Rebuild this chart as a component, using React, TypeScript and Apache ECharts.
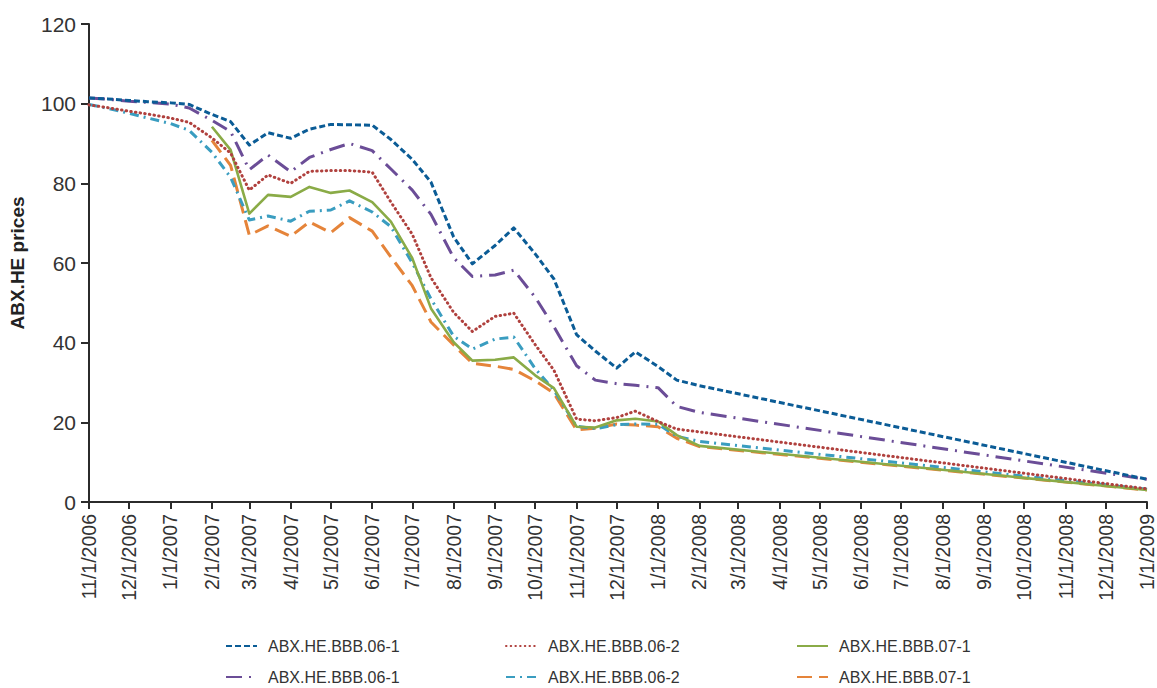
import React, { useEffect, useRef } from "react";
import * as echarts from "echarts";

const dates = [
  "11/1/2006", "11/15/2006", "12/1/2006", "12/15/2006", "1/1/2007", "1/15/2007",
  "2/1/2007", "2/15/2007", "3/1/2007", "3/15/2007", "4/1/2007", "4/15/2007",
  "5/1/2007", "5/15/2007", "6/1/2007", "6/15/2007", "7/1/2007", "7/15/2007",
  "8/1/2007", "8/15/2007", "9/1/2007", "9/15/2007", "10/1/2007", "10/15/2007",
  "11/1/2007", "11/15/2007", "12/1/2007", "12/15/2007", "1/1/2008", "1/15/2008",
  "2/1/2008", "1/1/2009",
];

const tickLabels = [
  "11/1/2006", "12/1/2006", "1/1/2007", "2/1/2007", "3/1/2007", "4/1/2007",
  "5/1/2007", "6/1/2007", "7/1/2007", "8/1/2007", "9/1/2007", "10/1/2007",
  "11/1/2007", "12/1/2007", "1/1/2008", "2/1/2008", "3/1/2008", "4/1/2008",
  "5/1/2008", "6/1/2008", "7/1/2008", "8/1/2008", "9/1/2008", "10/1/2008",
  "11/1/2008", "12/1/2008", "1/1/2009",
];

const yTicks = [0, 20, 40, 60, 80, 100, 120];

const bbb061a = [101.4, 101.2, 100.8, 100.5, 100.2, 99.8, 97.3, 95.5, 89.6, 92.7, 91.3, 93.6, 94.8, 94.7, 94.6, 91.0, 86.0, 80.3, 66.5, 59.8, 64.4, 68.8, 62.3, 56.0, 42.0, 37.9, 33.6, 37.7, 34.0, 30.6, 29.2, 5.7];
const bbb062a = [99.7, 99.0, 98.1, 97.4, 96.4, 95.3, 91.4, 87.6, 78.3, 82.1, 80.0, 83.0, 83.2, 83.2, 82.8, 75.3, 67.2, 56.3, 47.6, 42.8, 46.6, 47.4, 39.5, 33.1, 20.8, 20.4, 21.2, 22.8, 20.2, 18.3, 17.6, 3.3];
const bbb071a = [null, null, null, null, null, null, 94.2, 88.4, 72.4, 77.1, 76.6, 79.1, 77.6, 78.2, 75.3, 70.4, 61.2, 48.6, 40.1, 35.5, 35.7, 36.3, 31.8, 28.6, 18.9, 18.7, 20.5, 20.9, 20.2, 16.8, 14.1, 3.0];
const bbb061b = [101.4, 101.1, 100.6, 100.3, 99.9, 98.9, 95.8, 93.0, 83.4, 87.1, 82.9, 86.5, 88.5, 90.0, 88.2, 83.6, 78.3, 72.2, 61.3, 56.6, 57.0, 58.2, 51.4, 44.0, 34.2, 30.6, 29.7, 29.3, 28.7, 24.0, 22.5, 5.7];
const bbb062b = [99.8, 98.8, 97.6, 96.4, 95.0, 93.3, 87.8, 81.5, 70.8, 71.8, 70.5, 73.0, 73.3, 75.6, 72.8, 69.1, 60.0, 51.0, 41.6, 38.4, 40.9, 41.4, 33.5, 28.1, 19.0, 18.4, 19.4, 19.6, 19.5, 16.5, 15.2, 3.2];
const bbb071b = [null, null, null, null, null, null, 90.8, 84.5, 67.0, 69.3, 66.7, 70.3, 67.6, 71.4, 68.0, 61.5, 54.3, 45.2, 39.4, 34.8, 34.1, 33.3, 30.4, 27.3, 18.1, 18.5, 19.6, 19.3, 18.9, 16.0, 13.9, 3.0];

const seriesNames = [
  "ABX.HE.BBB.06-1|a", "ABX.HE.BBB.06-2|a", "ABX.HE.BBB.07-1|a",
  "ABX.HE.BBB.06-1|b", "ABX.HE.BBB.06-2|b", "ABX.HE.BBB.07-1|b",
];

const FONT = "'Liberation Sans', Arial, sans-serif";

function dayIndex(s: string): number {
  const [m, d, y] = s.split("/").map(Number);
  const base = Date.UTC(2006, 10, 1);
  return Math.round((Date.UTC(y, m - 1, d) - base) / 86400000);
}

export default function App() {
  const ref = useRef<HTMLDivElement>(null);
  useEffect(() => {
    if (!ref.current) return;
    const chart = echarts.init(ref.current, undefined, { renderer: "svg" });
    const xs = dates.map(dayIndex);
    const tickDays = tickLabels.map(dayIndex);
    const labelMap: Record<number, string> = {};
    tickDays.forEach((d, i) => (labelMap[d] = tickLabels[i]));
    const toData = (vals: (number | null)[]) =>
      vals.map((v, i) => (v == null ? null : [xs[i], v])).filter((p) => p != null);

    const styles = [
      { color: "#0b5c96", type: [6, 3], width: 3, cap: "butt", data: bbb061a },
      { color: "#b0413e", type: [0.5, 4.2], width: 3, cap: "round", data: bbb062a },
      { color: "#8aab47", type: "solid", width: 2.6, cap: "butt", data: bbb071a },
      { color: "#6b4d97", type: [16, 7, 2, 7], width: 3, cap: "butt", data: bbb061b },
      { color: "#3a9dc0", type: [9, 5, 2, 5], width: 3, cap: "butt", data: bbb062b },
      { color: "#e5843a", type: [15, 7], width: 3, cap: "butt", data: bbb071b },
    ];

    const series = styles.map((s, i) => ({
      name: seriesNames[i],
      type: "line",
      symbol: "none",
      data: toData(s.data),
      lineStyle: { color: s.color, type: s.type, width: s.width, cap: s.cap, join: "round" },
      itemStyle: { color: s.color },
      z: 10 - i,
    }));

    const legendLeft = [225, 505, 796];
    const legendTop = [638, 669];
    const legends = seriesNames.map((n, i) => ({
      data: [n],
      left: legendLeft[i % 3],
      top: legendTop[Math.floor(i / 3)],
      padding: 0,
      itemWidth: 31,
      itemHeight: 14,
      itemStyle: { opacity: 0, color: "transparent", borderWidth: 0 },
      formatter: (name: string) => name.split("|")[0],
      textStyle: { fontSize: 16, fontFamily: FONT, color: "#333", padding: [0, 0, 0, 6] },
    }));

    chart.setOption({
      animation: false,
      grid: { left: 88, right: 10, top: 24, bottom: 186, containLabel: false },
      legend: legends,
      xAxis: {
        type: "value",
        min: 0,
        max: dayIndex("1/1/2009"),
        splitLine: { show: false },
        axisLine: { lineStyle: { color: "#2b2b2b", width: 2 } },
        axisTick: { show: true, customValues: tickDays, length: 7, lineStyle: { color: "#2b2b2b", width: 2 } },
        axisLabel: {
          customValues: tickDays,
          rotate: 90,
          margin: 12,
          fontSize: 19.5,
          fontFamily: FONT,
          color: "#333",
          formatter: (v: number) => labelMap[v] ?? "",
        },
      },
      yAxis: {
        type: "value",
        min: 0,
        max: 120,
        interval: 20,
        name: "ABX.HE prices",
        nameLocation: "middle",
        nameGap: 62,
        nameTextStyle: { fontSize: 19, fontWeight: "bold", fontFamily: FONT, color: "#222" },
        splitLine: { show: false },
        axisLine: { show: true, lineStyle: { color: "#2b2b2b", width: 2 } },
        axisTick: { show: true, length: 8, lineStyle: { color: "#2b2b2b", width: 2 } },
        axisLabel: {
          margin: 13,
          fontSize: 21,
          fontFamily: FONT,
          color: "#333",
          formatter: (v: number) => (yTicks.includes(v) ? String(v) : ""),
        },
      },
      series,
    });
    return () => chart.dispose();
  }, []);
  return (
    <div
      ref={ref}
      style={{ position: "fixed", left: 0, top: 0, width: 1157, height: 688, background: "#fff" }}
    />
  );
}
